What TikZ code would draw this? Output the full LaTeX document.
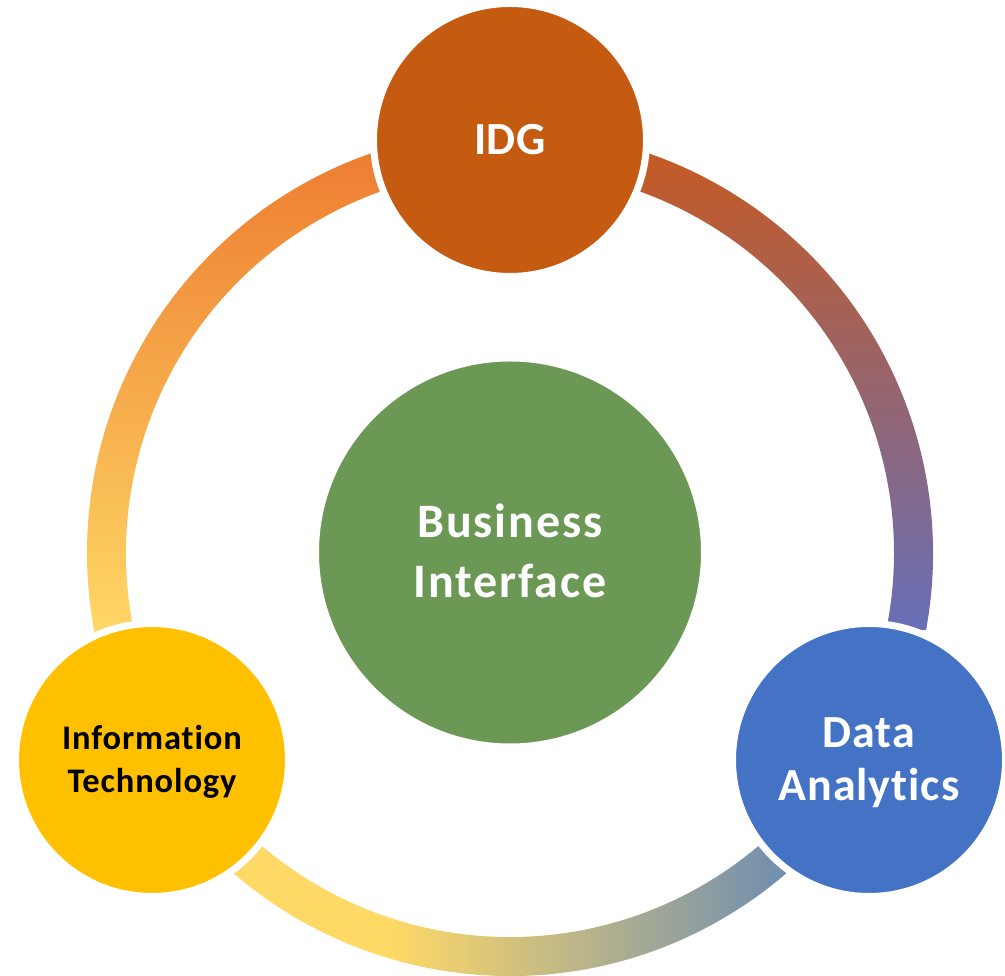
\documentclass[tikz,border=0pt]{standalone}
\usepackage{fontspec}
\setmainfont{Carlito}[Ligatures=CommonOff]
\usetikzlibrary{calc}
\definecolor{idgc}{HTML}{C55A11}
\definecolor{bic}{HTML}{6B9854}
\definecolor{itc}{HTML}{FFC000}
\definecolor{dac}{HTML}{4472C4}
\definecolor{ringOrange}{HTML}{ED7D31}
\definecolor{ringYellow}{HTML}{FFD966}
\definecolor{ringRust}{HTML}{C55A24}
\definecolor{ringMauve}{HTML}{A3617C}
\definecolor{ringViolet}{HTML}{686FB8}
\definecolor{ringSlate}{HTML}{6F8DB0}
\begin{document}
\begin{tikzpicture}[x=1pt,y=1pt,
  hub/.style={circle, inner sep=0pt, minimum size=273pt, draw=white, line width=7pt},
  lbl/.style={align=center, inner sep=0pt}]
\useasboundingbox (0,0) rectangle (1005,976);
\coordinate (O) at (510,423);
% left arc (IT -> IDG)
\begin{scope}
\clip ($(O)+(90:423)$) arc[start angle=90,end angle=210,radius=423]
  -- ($(O)+(210:384)$) arc[start angle=210,end angle=90,radius=384] -- cycle;
\shade[top color=ringOrange, bottom color=ringYellow] (60,336) rectangle (440,826);
\end{scope}
% right arc (IDG -> DA)
\begin{scope}
\clip ($(O)+(-30:423)$) arc[start angle=-30,end angle=90,radius=423]
  -- ($(O)+(90:384)$) arc[start angle=90,end angle=-30,radius=384] -- cycle;
\shade[top color=ringRust, middle color=ringMauve, bottom color=ringViolet] (580,346) rectangle (960,826);
\end{scope}
% bottom arc (DA -> IT)
\begin{scope}
\clip ($(O)+(210:423)$) arc[start angle=210,end angle=330,radius=423]
  -- ($(O)+(330:384)$) arc[start angle=330,end angle=210,radius=384] -- cycle;
\fill[ringYellow] (100,-10) rectangle (391,260);
\shade[left color=ringYellow, right color=ringSlate] (390,-10) rectangle (790,260);
\fill[ringSlate] (789,-10) rectangle (920,260);
\end{scope}
% circles
\node[hub, fill=idgc] (idg) at (510,836) {};
\node[hub, fill=itc] (it) at (152,216) {};
\node[hub, fill=dac] (da) at (869,216) {};
\node[hub, fill=bic, minimum size=389pt] (bi) at (510,423.5) {};
% labels
\node[lbl, text=white, font=\bfseries\fontsize{46}{60}\selectfont\addfontfeature{LetterSpace=1}, text height=29.1pt, text depth=0pt] (idgt) at (idg.center) {IDG};
\node[lbl, text=white, font=\bfseries\fontsize{48}{60.5}\selectfont\addfontfeature{LetterSpace=4}, text height=90.8pt, text depth=0pt] (bit) at (bi.center) {Business\\Interface};
\node[lbl, text=white, font=\bfseries\fontsize{46}{53}\selectfont\addfontfeature{LetterSpace=2}, text height=82pt, text depth=0pt] (dat) at (da.center) {Data\\Analytics};
\node[lbl, text=black, font=\bfseries\fontsize{34.5}{42.7}\selectfont\addfontfeature{LetterSpace=2.5}, text height=64.5pt, text depth=0pt] (itt) at (it.center) {Information\\Technology};
\end{tikzpicture}
\end{document}
